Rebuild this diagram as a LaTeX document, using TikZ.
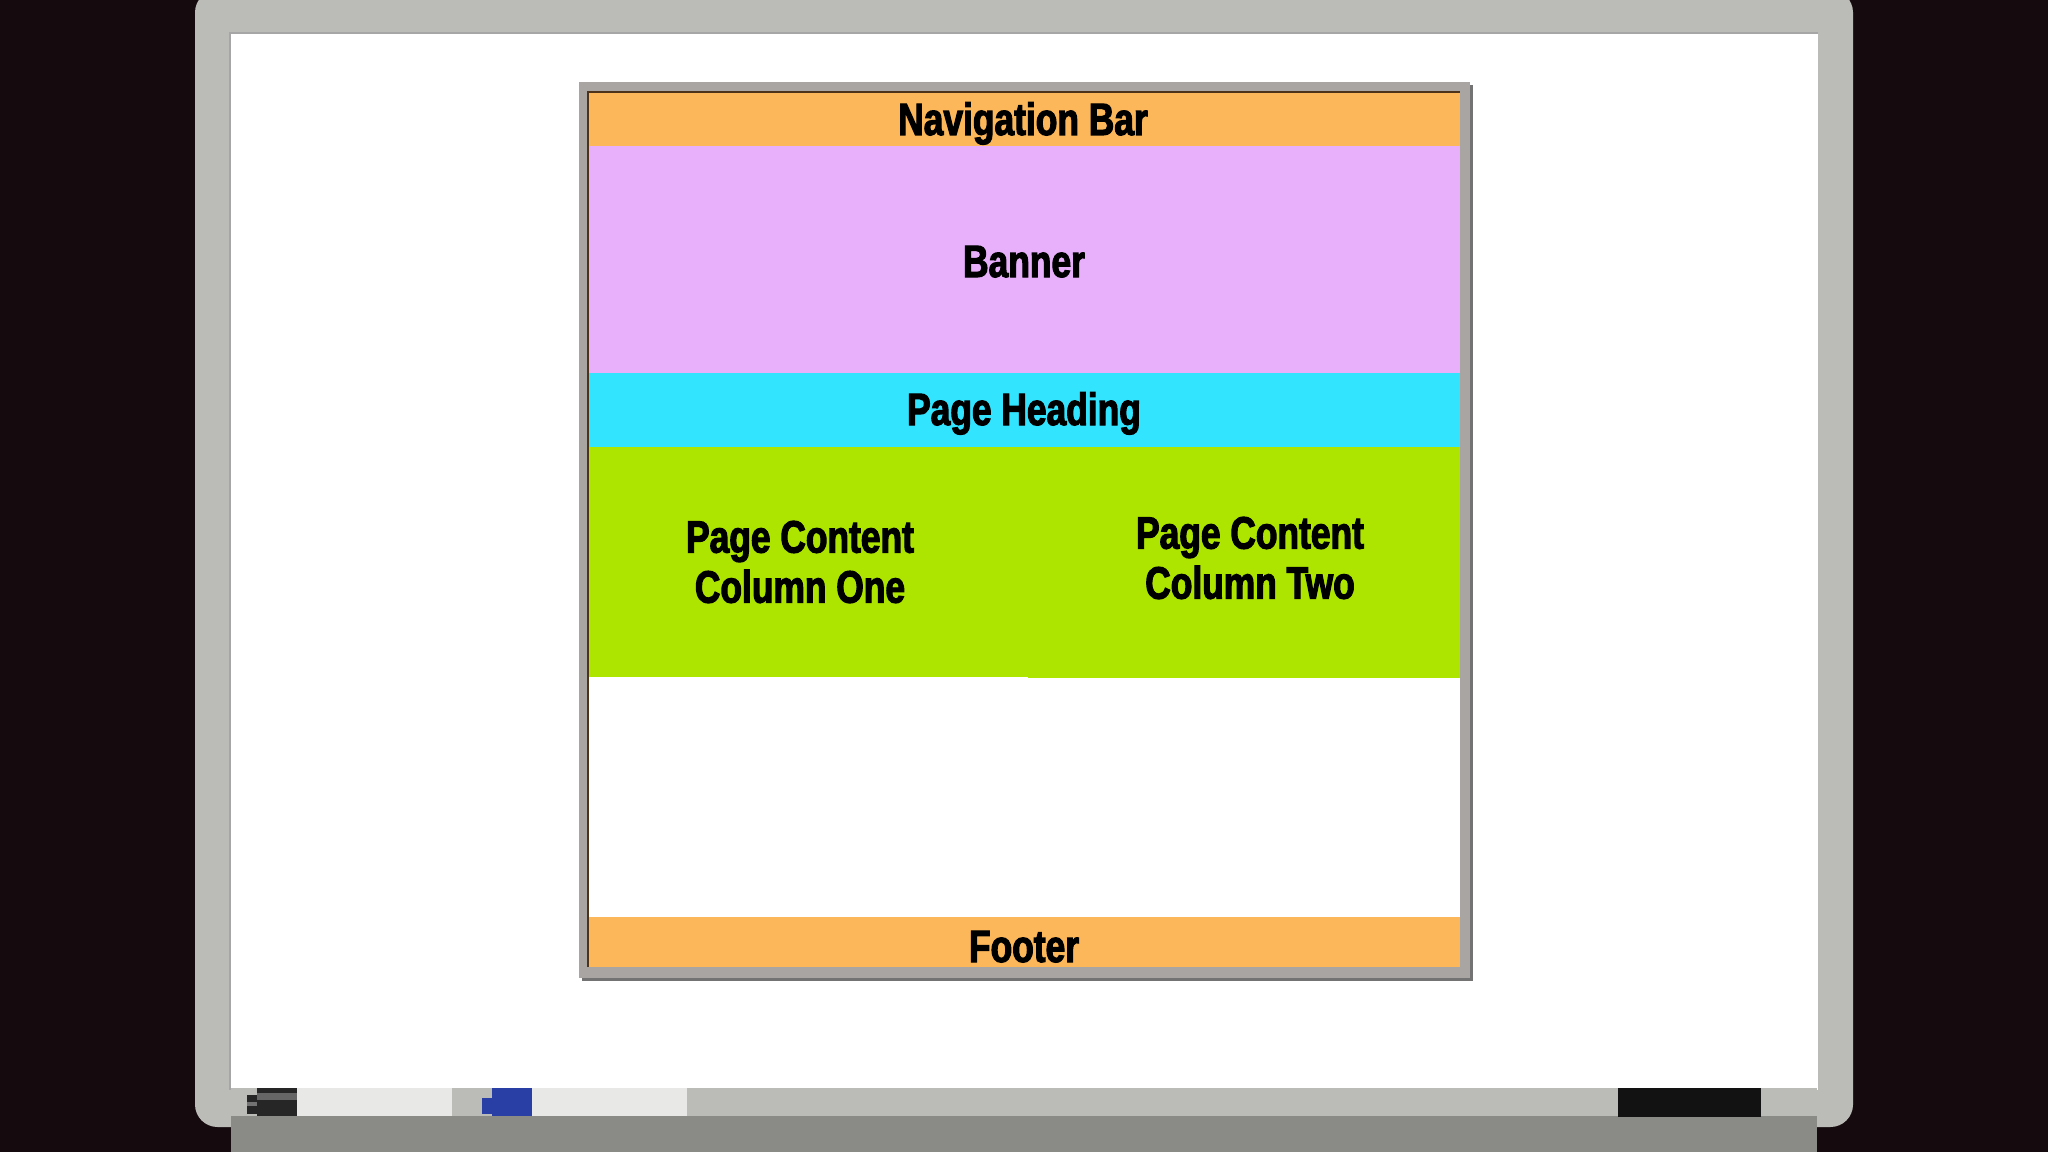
\documentclass[tikz,border=0pt]{standalone}
\usepackage{fontspec}
\newfontfamily\impactfont[UprightFont={* Bold},FakeStretch=0.78,FakeBold=2.5]{Liberation Sans}
\definecolor{bgdark}{HTML}{150B0E}
\definecolor{framegray}{HTML}{BBBCB7}
\definecolor{traydark}{HTML}{8A8B87}
\definecolor{boxgray}{HTML}{A9A5A3}
\definecolor{navorange}{HTML}{FDB75B}
\definecolor{bannerpink}{HTML}{E8B0FB}
\definecolor{headcyan}{HTML}{33E4FF}
\definecolor{contentgreen}{HTML}{ADE400}
\definecolor{markerbody}{HTML}{E8E8E6}
\definecolor{markerblue}{HTML}{2A3FA6}
\tikzset{
  label/.style={font=\impactfont\fontsize{25.8}{28.5}\selectfont, text=black, inner sep=0pt, align=center},
}
\begin{document}
\begin{tikzpicture}[x=0.02cm,y=-0.02cm]
\useasboundingbox (0,0) rectangle (2048,1152);
% background
\fill[bgdark] (0,0) rectangle (2048,1152);
% whiteboard frame
\fill[framegray, rounded corners=0.45cm] (195,-10) rectangle (1853,1127);
% white surface
\fill[white] (230,33) rectangle (1818,1090);
\draw[gray!70, line width=0.6pt] (230,1090) -- (230,33) -- (1818,33);
% tray
\fill[framegray] (231,1088) rectangle (1817,1116);
\fill[traydark] (231,1116) rectangle (1817,1152);
% black marker
\fill[markerbody] (297,1088) rectangle (452,1116);
\fill[black!85] (257,1088) rectangle (297,1116);
\fill[black!60] (257,1093) rectangle (297,1100);
\fill[black!85] (247,1095) rectangle (257,1114);
\fill[black!55] (247,1102) rectangle (257,1106);
% blue marker
\fill[markerbody] (532,1088) rectangle (687,1116);
\fill[markerblue] (492,1088) rectangle (532,1116);
\fill[markerblue] (482,1098) rectangle (492,1114);
% eraser
\fill[black!93] (1618,1088) rectangle (1761,1117);
% layout box frame and shadow
\fill[black!55] (582,85) rectangle (1473,981);
\fill[boxgray] (579,82) rectangle (1470,978);
% sections
\fill[white] (588,92) rectangle (1460,967);
\fill[navorange] (588,92) rectangle (1460,146);
\fill[bannerpink] (588,146) rectangle (1460,373);
\fill[headcyan] (588,373) rectangle (1460,447);
\fill[contentgreen] (588,447) rectangle (1028,677);
\fill[contentgreen] (1028,447) rectangle (1460,678);
\fill[navorange] (588,917) rectangle (1460,967);
\draw[black!60!brown, line width=0.7pt] (588,967) -- (588,92) -- (1460,92);
% labels
\node[label, anchor=base] (nav) at (1023,135) {Navigation Bar};
\node[label, anchor=base] (banner) at (1024,277) {Banner};
\node[label, anchor=base] (heading) at (1024,425) {Page Heading};
\node[label] (colone) at (800,562) {Page Content\\Column One};
\node[label] (coltwo) at (1250,558) {Page Content\\Column Two};
\node[label, anchor=base] (footer) at (1024,962) {Footer};
\end{tikzpicture}
\end{document}
